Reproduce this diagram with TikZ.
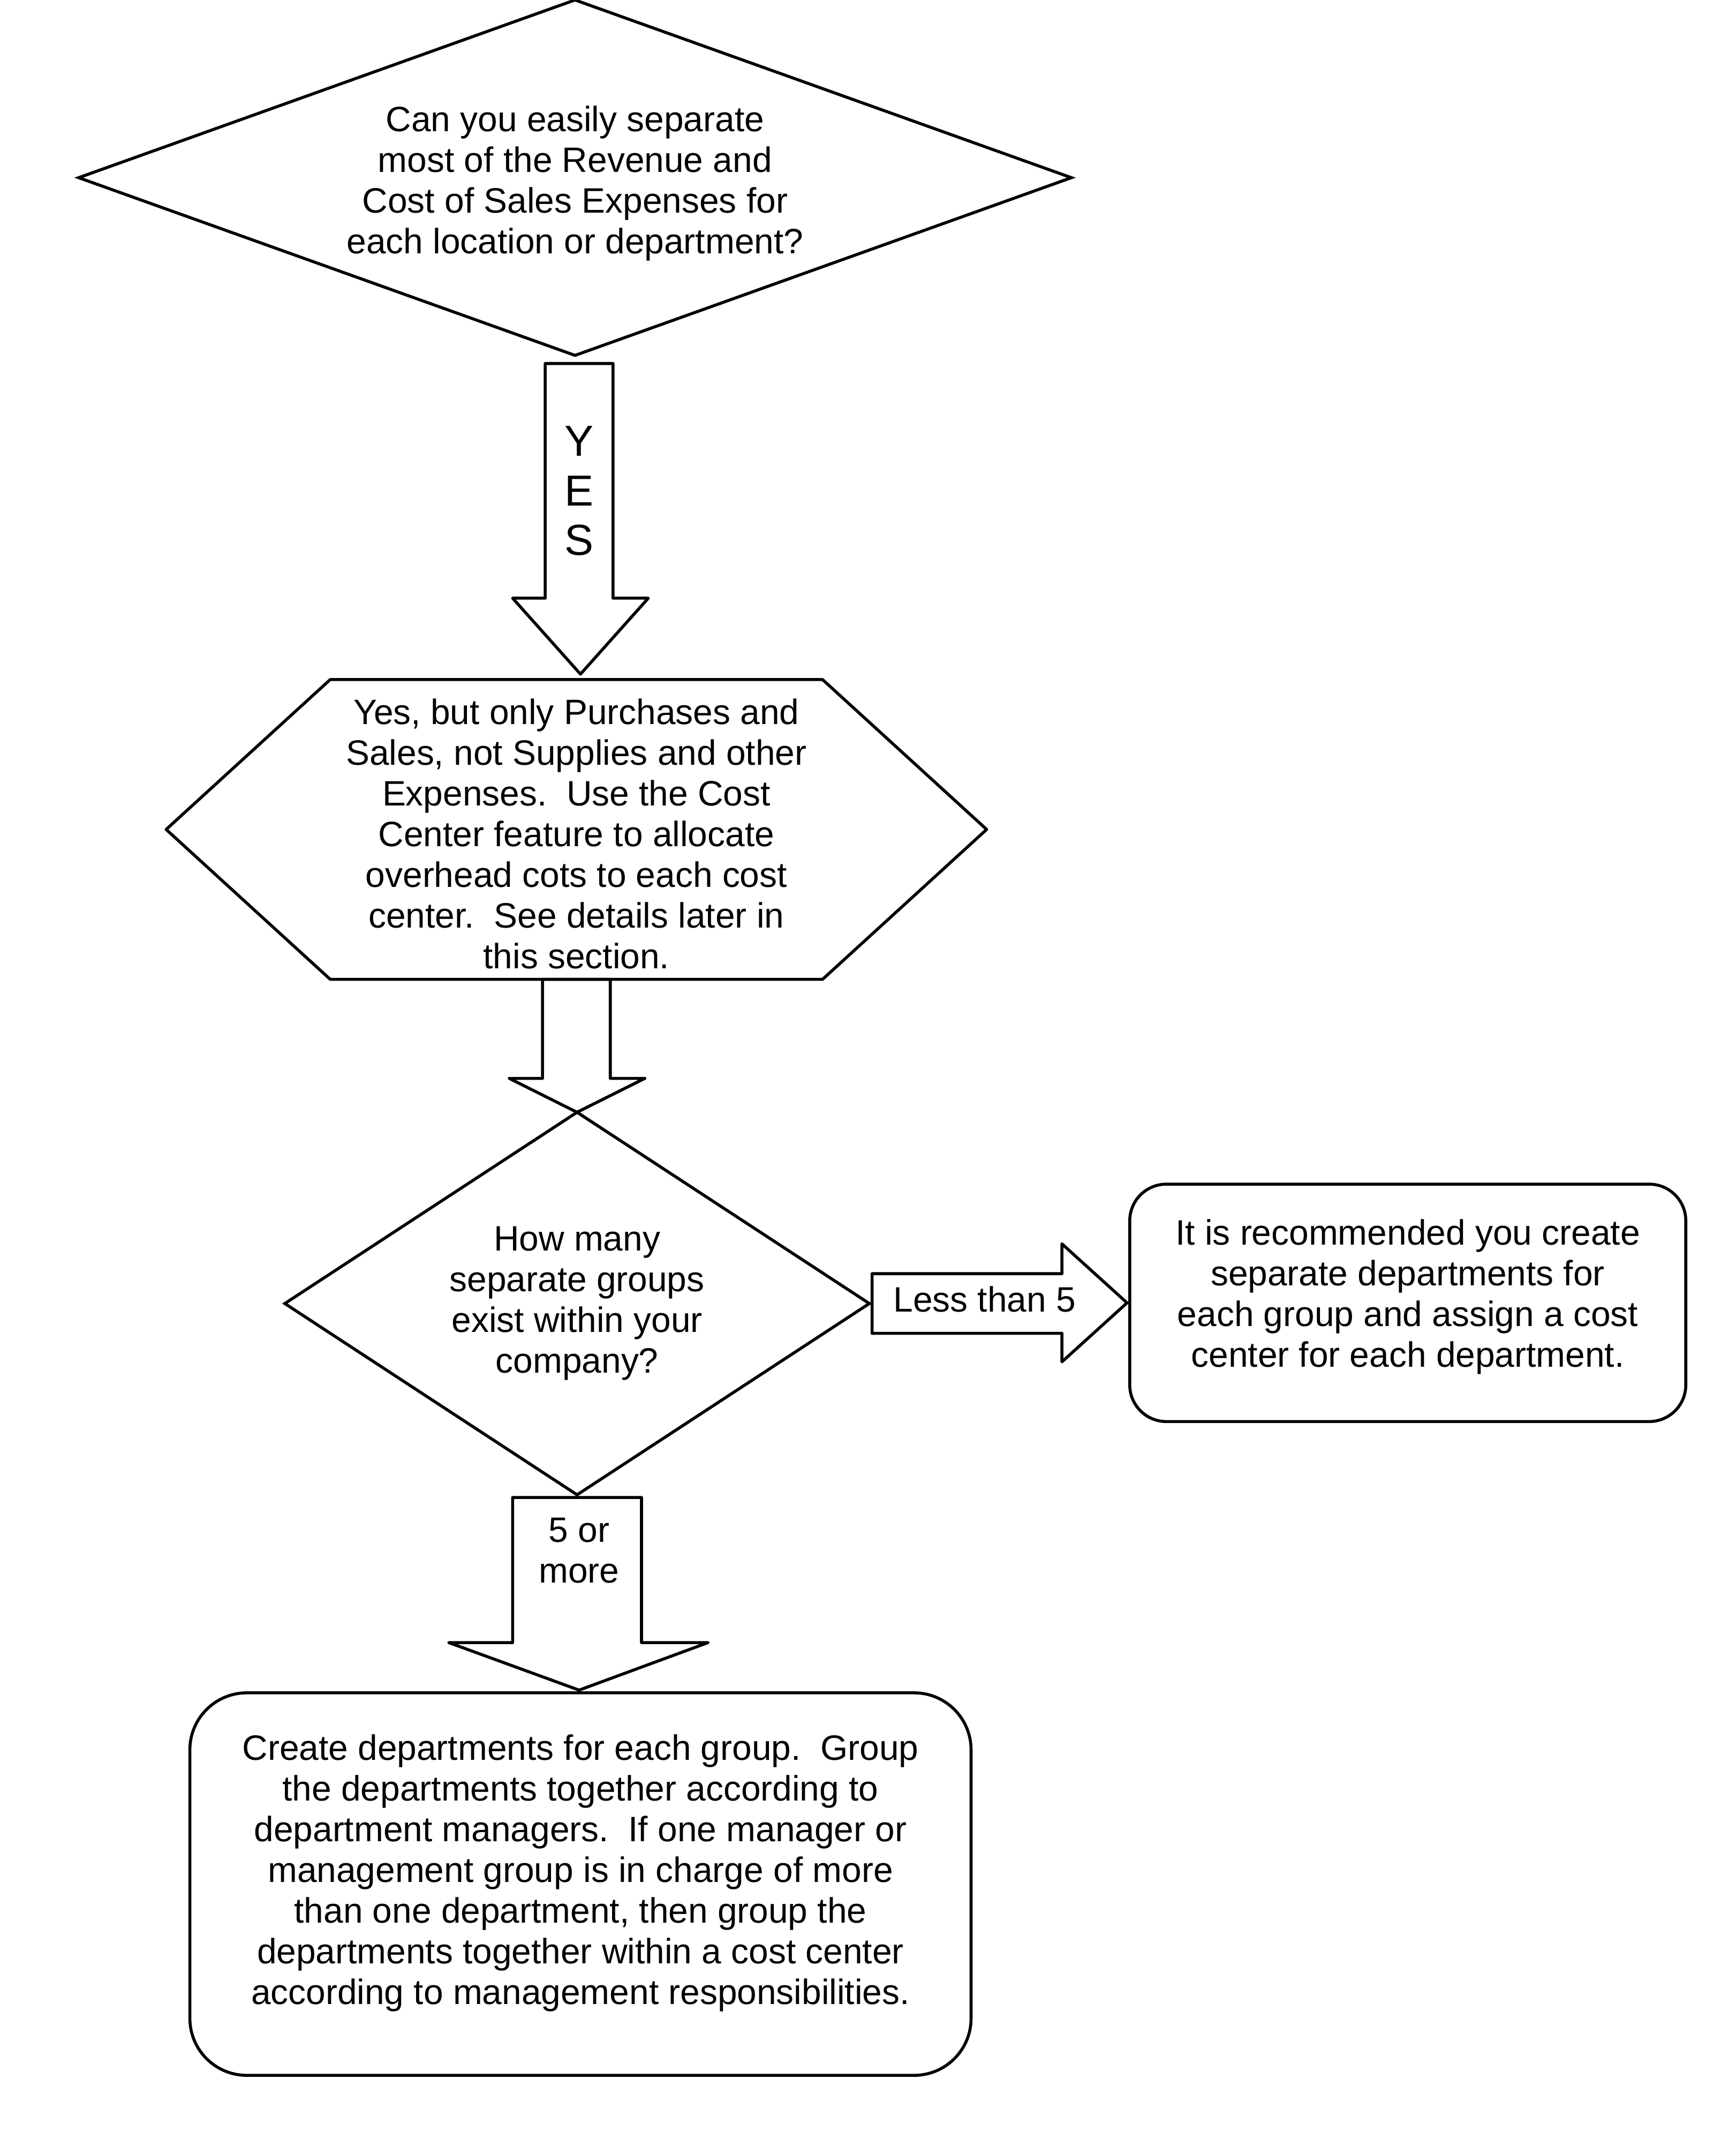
\documentclass[tikz,border=0pt]{standalone}
\usepackage{fontspec}
\setmainfont{Liberation Sans}
\usetikzlibrary{shapes.geometric}

\tikzset{
    every node/.style={inner sep=0pt, outer sep=0pt, align=center, font=\fontsize{13}{15}\selectfont},
    decision/.style={diamond, draw, line width=1.1pt},
    roundbox/.style={rectangle, draw, line width=1.1pt},
    outline/.style={line width=1.1pt, line join=round},
}

\begin{document}
\begin{tikzpicture}[x=0.5pt, y=-0.5pt]
    \useasboundingbox (0,0) rectangle (1280,1588);
    % boxes
    \node[decision, aspect=2.79, minimum width=366pt, minimum height=131pt] (easy) at (424,131)
        {\mbox{}\\[-1.5pt]Can you easily separate\\most of the Revenue and\\Cost of Sales Expenses for\\each location or department?};
    \node[minimum width=181.5pt, minimum height=110.5pt] (partial) at (425,611.5)
        {\mbox{}\\[-2.5pt]Yes, but only Purchases and\\Sales, not Supplies and other\\Expenses.\ \ Use the Cost\\Center feature to allocate\\overhead cots to each cost\\center.\ \ See details later in\\this section.};
    \draw[outline] (partial.north west) -- (partial.north east) -- ([xshift=60.5pt]partial.east)
        -- (partial.south east) -- (partial.south west) -- ([xshift=-60.5pt]partial.west) -- cycle;
    \node[decision, aspect=1.53, minimum width=215.5pt, minimum height=141pt] (groups) at (425.5,961)
        {How many\\separate groups\\exist within your\\company?};
    \node[roundbox, rounded corners=13.5pt, minimum width=205pt, minimum height=87.5pt] (fewgroups) at (1038,960.5)
        {It is recommended you create\\separate departments for\\each group and assign a cost\\center for each department.\\[-7.7pt]\mbox{}};
    \node[roundbox, rounded corners=21pt, minimum width=288pt, minimum height=141pt] (manygroups) at (428,1389)
        {Create departments for each group.\ \ Group\\the departments together according to\\department managers.\ \ If one manager or\\management group is in charge of more\\than one department, then group the\\departments together within a cost center\\according to management responsibilities.\\[-4.2pt]\mbox{}};
    % block arrows
    \draw[outline] ([xshift=-11pt,yshift=-3pt]easy.south) |- ([xshift=-23.5pt,yshift=30pt]partial.north)
        -- ([xshift=1.5pt,yshift=2pt]partial.north) -- ([xshift=26.5pt,yshift=30pt]partial.north)
        -| ([xshift=14pt,yshift=-3pt]easy.south) -- cycle;
    \draw[outline] ([xshift=-12.5pt]partial.south) |- ([xshift=-25pt,yshift=12.5pt]groups.north)
        -- (groups.north) -- ([xshift=25pt,yshift=12.5pt]groups.north)
        -| ([xshift=12.5pt]partial.south) -- cycle;
    \draw[outline] ([xshift=1pt,yshift=11pt]groups.east) -| ([xshift=-25pt,yshift=21.75pt]fewgroups.west)
        -- ([xshift=-1pt]fewgroups.west) -- ([xshift=-25pt,yshift=-21.75pt]fewgroups.west)
        |- ([xshift=1pt,yshift=-11pt]groups.east) -- cycle;
    \draw[outline] ([xshift=-23.75pt,yshift=-1pt]groups.south) |- ([xshift=-48.5pt,yshift=18.5pt]manygroups.north)
        -- ([xshift=-0.5pt,yshift=1pt]manygroups.north) -- ([xshift=47pt,yshift=18.5pt]manygroups.north)
        -| ([xshift=23.75pt,yshift=-1pt]groups.south) -- cycle;
    % arrow texts
    \node[font=\fontsize{16}{18.25}\selectfont] (yes) at (427,362) {Y\\E\\S};
    \node (lessfive) at (726,958) {Less than 5};
    \node (fivemore) at (427,1143) {5 or\\more};
\end{tikzpicture}
\end{document}
